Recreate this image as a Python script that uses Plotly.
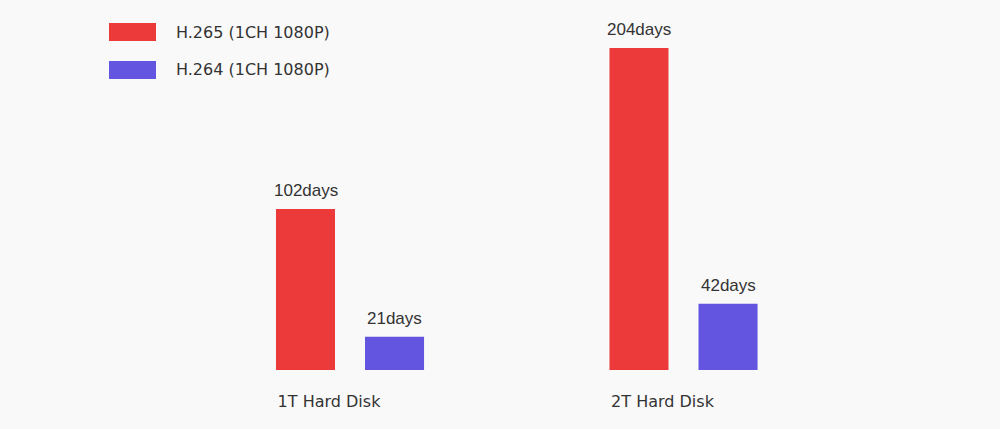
import plotly.graph_objects as go

categories = ["1T Hard Disk", "2T Hard Disk"]
series_names = ["H.265 (1CH 1080P)", "H.264 (1CH 1080P)"]
h265_days = [102, 204]
h264_days = [21, 42]
colors = ["#ec3a3b", "#6455e0"]
bg = "#f9f9f9"

fig = go.Figure()
all_series = [h265_days, h264_days]
for name, vals, col in zip(series_names, all_series, colors):
    fig.add_trace(go.Bar(
        x=list(range(len(categories))), y=vals, name=name,
        marker=dict(color=col, line=dict(width=0)),
        showlegend=False, hoverinfo="x+y",
    ))

# value labels above bars (group offset: each bar sub-slot is 89px wide)
for si, vals in enumerate(all_series):
    for ci, v in enumerate(vals):
        fig.add_annotation(x=ci, y=v, xref="x", yref="y", text=f"{v}days",
                           showarrow=False, yanchor="bottom", xanchor="center",
                           xshift=(si - 0.5) * 89, yshift=7,
                           font=dict(family="Liberation Sans, Arial", size=17, color="#333333"))

# custom legend (large swatches); paper y is relative to the 370px plot area
PLOT_H = 370
for i, (name, col) in enumerate(zip(series_names, colors)):
    top = 23 + 38 * i
    bot = 41 + 38 * i
    fig.add_shape(type="rect", xref="paper", yref="paper",
                  x0=109 / 1000, x1=156 / 1000,
                  y0=(PLOT_H - bot) / PLOT_H, y1=(PLOT_H - top) / PLOT_H,
                  fillcolor=col, line=dict(width=0), layer="above")
    fig.add_annotation(xref="paper", yref="paper", x=174 / 1000,
                       y=(PLOT_H - (top + bot) / 2) / PLOT_H,
                       xanchor="left", yanchor="middle", showarrow=False, text=name,
                       font=dict(family="DejaVu Sans", size=16, color="#333333"))

fig.update_layout(
    width=1000, height=429,
    margin=dict(l=0, r=0, t=0, b=59),
    paper_bgcolor=bg, plot_bgcolor=bg,
    barmode="group", bargap=0.466, bargroupgap=0.337,
    xaxis=dict(range=[-1.0495, 1.949], tickvals=list(range(len(categories))),
               ticktext=categories, showgrid=False, zeroline=False, showline=False,
               ticks="", ticklabelshift=-21, ticklabelstandoff=20, fixedrange=True,
               tickfont=dict(family="DejaVu Sans", size=16, color="#333333")),
    yaxis=dict(range=[0, 234.4], visible=False, fixedrange=True),
)
fig.write_html("out.html", config={"displayModeBar": False},
               post_script="document.body.style.margin='0';document.body.style.background='#f9f9f9';")
